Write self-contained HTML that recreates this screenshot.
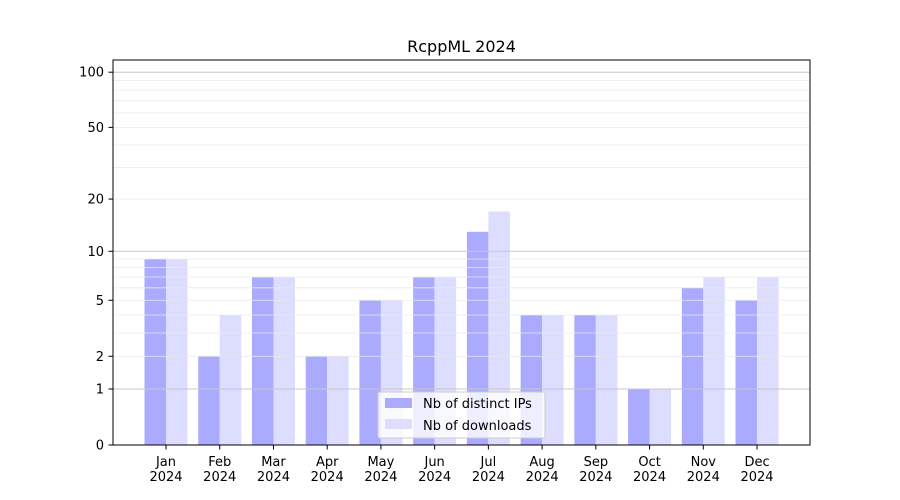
<!DOCTYPE html>
<html><head><meta charset="utf-8"><style>body{margin:0;background:#fff}svg{display:block;font-family:"DejaVu Sans","Liberation Sans",sans-serif}</style></head>
<body>
<svg width="900" height="500" viewBox="0 0 900 500" xmlns="http://www.w3.org/2000/svg">
<rect width="900" height="500" fill="#fff"/>
<g id="bars"></g>
<g id="grid"></g>
<rect x="113" y="60" width="697" height="385" fill="none" stroke="#000" stroke-width="1"/>
<g id="ticks" font-size="13" fill="#000"></g>
<text x="461.5" y="52" text-anchor="middle" font-size="16">RcppML 2024</text>
<g>
<rect x="378" y="392" width="167" height="46" fill="#fff" fill-opacity="0.8" stroke="#ccc" rx="2"/>
<rect x="385" y="398" width="27" height="10" fill="#aaaaff"/>
<text x="423" y="408" font-size="13">Nb of distinct IPs</text>
<rect x="385" y="419" width="27" height="10" fill="#ddddff"/>
<text x="423" y="430" font-size="13">Nb of downloads</text>
</g>
<script>
var f=v=>445-186*Math.log10(1+v);
var ns="http://www.w3.org/2000/svg";
function el(p,t,a,txt){var e=document.createElementNS(ns,t);for(var k in a)e.setAttribute(k,a[k]);if(txt!=null)e.textContent=txt;document.getElementById(p).appendChild(e);}
var ips=[9,2,7,2,5,7,13,4,4,1,6,5],dl=[9,4,7,2,5,7,17,4,4,1,7,7];
var m=["Jan","Feb","Mar","Apr","May","Jun","Jul","Aug","Sep","Oct","Nov","Dec"];
for(var i=0;i<12;i++){var c=166+i*53.73;
el("bars","rect",{x:c-21.5,y:f(ips[i]),width:21.5,height:445-f(ips[i]),fill:"#aaaaff"});
el("bars","rect",{x:c,y:f(dl[i]),width:21.5,height:445-f(dl[i]),fill:"#ddddff"});
el("ticks","line",{x1:c,x2:c,y1:445,y2:449.5,stroke:"#000"});
el("ticks","text",{x:c,y:466,"text-anchor":"middle"},m[i]);
el("ticks","text",{x:c,y:481,"text-anchor":"middle"},"2024");}
[2,3,4,5,6,7,8,9,20,30,40,50,60,70,80,90].forEach(v=>el("grid","line",{x1:113,x2:810,y1:f(v),y2:f(v),stroke:"#ebebeb","stroke-width":0.8}));
[1,10,100].forEach(v=>el("grid","line",{x1:113,x2:810,y1:f(v),y2:f(v),stroke:"#c8c8c8","stroke-width":1}));
[0,1,2,5,10,20,50,100].forEach(v=>{var y=f(v);el("ticks","line",{x1:108.5,x2:113,y1:y,y2:y,stroke:"#000"});el("ticks","text",{x:104,y:y+4.5,"text-anchor":"end"},String(v));});
</script>
</svg>
</body></html>
